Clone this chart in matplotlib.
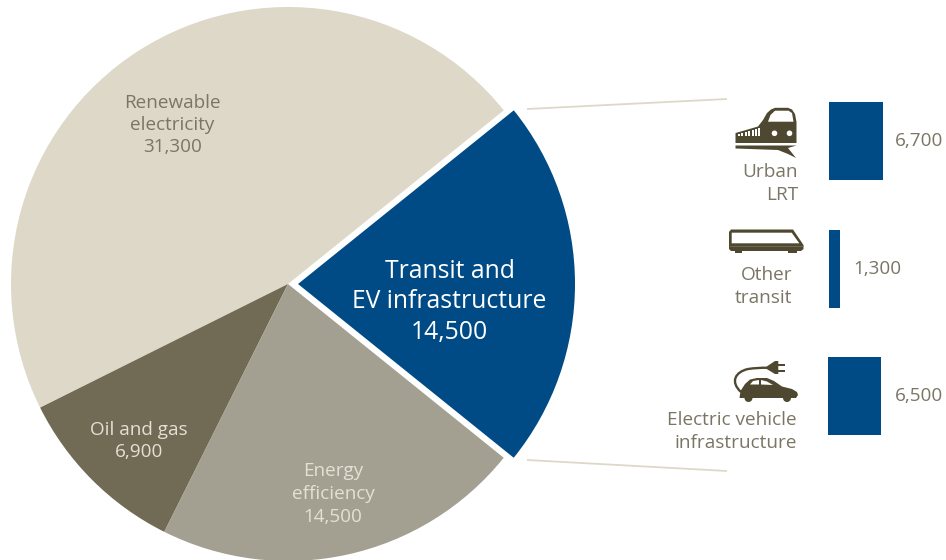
import matplotlib
matplotlib.use('Agg')
import matplotlib.pyplot as plt
from matplotlib.patches import PathPatch, Polygon, Circle, Rectangle
from matplotlib.path import Path

plt.rcParams['font.family'] = ['Open Sans', 'DejaVu Sans']

# investment by category, counter-clockwise from the transit slice
sectors = ['Transit and\nEV infrastructure', 'Renewable\nelectricity', 'Oil and gas', 'Energy\nefficiency']
sector_values = [14500, 31300, 6900, 14500]
sector_labels = ['14,500', '31,300', '6,900', '14,500']

# breakdown of the transit slice
transit_names = ['Urban\nLRT', 'Other\ntransit', 'Electric vehicle\ninfrastructure']
transit_values = [6700, 1300, 6500]
transit_labels = ['6,700', '1,300', '6,500']

BLUE = '#004b85'
SAND = '#ddd8c8'
STONE = '#a3a091'
OLIVE = '#716a55'
ICON = '#4f4831'
TEXT = '#7a7564'

W, H = 946, 560
fig = plt.figure(figsize=(W / 100, H / 100), dpi=100)
ax = fig.add_axes([0, 0, 1, 1])


def py(y):
    # screen rows run downwards, the axes run upwards
    return H - y


def pts(coords):
    return [(x, py(y)) for x, y in coords]


# pie, with the transit slice pulled out towards the bars
ax.pie(sector_values, colors=[BLUE, SAND, OLIVE, STONE], center=(288, py(284)), radius=277,
       startangle=-38.85, counterclock=True, explode=[10, 0, 0, 0], normalize=True,
       wedgeprops={'linewidth': 0}, frame=True)
ax.set_xlim(0, W)
ax.set_ylim(0, H)
ax.set_aspect('equal')
ax.axis('off')

label_spots = [(449.5, 302), (172.5, 125), (139, 441), (333, 494)]
label_colors = ['white', TEXT, '#e4e0d3', '#e4e0d3']
for name, value, spot, col in zip(sectors, sector_labels, label_spots, label_colors):
    size = 17.8 if col == 'white' else 13.6
    gap = 30 if col == 'white' else 22.5
    lines = name.split('\n') + [value]
    top = spot[1] - gap * (len(lines) - 1) / 2
    for i, line in enumerate(lines):
        ax.text(spot[0], py(top + gap * i), line, color=col, fontsize=size, ha='center', va='center')

# connectors from the slice to the breakdown
ax.plot([527, 727], [py(109), py(99)], color=SAND, lw=1.3, solid_capstyle='butt')
ax.plot([527, 727], [py(460), py(471)], color=SAND, lw=1.3, solid_capstyle='butt')

# breakdown bars, one small axes per row on a shared value scale
px_per_unit = 0.0081
bar_lefts = [829, 829, 828]
bar_tops = [102, 230, 357]
bar_height = 78
value_gap = [12, 14, 14.5]
for value, text, left, top, gap in zip(transit_values, transit_labels, bar_lefts, bar_tops, value_gap):
    bar_ax = fig.add_axes([left / W, (H - top - bar_height) / H, value * px_per_unit / W, bar_height / H])
    bar_ax.barh([0], [value], height=1, color=BLUE)
    bar_ax.set_xlim(0, value)
    bar_ax.set_ylim(-0.5, 0.5)
    bar_ax.axis('off')
    ax.text(left + value * px_per_unit + gap, py(top + bar_height / 2), text, color=TEXT,
            fontsize=13.6, ha='left', va='center')

name_right = [798, 792, 797]
name_rows = [(172, 195), (275, 298), (420, 443)]
for name, right, rows in zip(transit_names, name_right, name_rows):
    for line, row in zip(name.split('\n'), rows):
        ax.text(right, py(row), line, color=TEXT, fontsize=13.7, ha='right', va='center')

# light rail icon
ax.add_patch(Polygon(pts([(735.5, 143), (735.5, 133), (746, 130), (758, 126.5), (763, 120), (767, 113), (771, 109.5),
                          (775, 107.8), (788, 107.8), (792, 109.5), (795, 114), (796.5, 122), (796.5, 143)]), fc=ICON, lw=0))
ax.add_patch(Polygon(pts([(735.5, 145.5), (796.5, 145.5), (788, 148), (796, 158), (788, 154), (778, 150), (735.5, 148.5)]),
                     fc=ICON, lw=0))
ax.add_patch(Polygon(pts([(768, 121.7), (793.5, 121.7), (792, 113), (788.5, 110.7), (775, 110.7), (770.5, 115)]), fc='white', lw=0))
for cx in (774.5, 789.5):
    ax.add_patch(Circle((cx, py(133.3)), 2.8, fc='white', lw=0))
for wx, wtop in zip((737.5, 741, 744.5, 748, 751.5, 755, 758), (133.5, 132.5, 131.5, 130.5, 129.5, 128.5, 127.5)):
    ax.add_patch(Rectangle((wx, py(135.5)), 2, 135.5 - wtop, fc='white', lw=0))

# intercity train icon
ax.add_patch(Polygon(pts([(729, 232), (731, 229.5), (793, 229.5), (803.5, 245), (803.5, 249), (801, 251), (731, 251), (729, 249)]),
                     fc=ICON, lw=0))
ax.add_patch(Polygon(pts([(731.7, 232.7), (791.7, 232.7), (799.3, 243.3), (731.7, 243.3)]), fc='white', lw=0))
ax.plot([730, 803], [py(245.5), py(245.5)], color='#7a7564', lw=0.5)
for x0, x1 in ((735, 742), (788, 797)):
    ax.add_patch(Rectangle((x0, py(252.7)), x1 - x0, 1.8, fc=ICON, lw=0))

# charging car icon
ax.add_patch(Polygon(pts([(739.5, 398), (740.5, 391), (745, 384), (750, 379.5), (757, 378), (767, 378), (774, 381),
                          (782, 386.5), (792, 389), (797, 392), (798, 395), (796, 398)]), fc=ICON, lw=0))
for cx in (748.5, 787):
    ax.add_patch(Circle((cx, py(398)), 4, fc=ICON, lw=0))
ax.add_patch(Polygon(pts([(750, 384.5), (759, 384.5), (759, 380), (753, 381)]), fc='white', lw=0))
ax.add_patch(Polygon(pts([(761, 384.5), (773, 385), (767, 381.5), (761, 380)]), fc='white', lw=0))
cable = Path(pts([(741, 392), (730, 382), (735, 372), (748, 369), (758, 367.5), (767, 367.8)]),
             [Path.MOVETO, Path.CURVE4, Path.CURVE4, Path.CURVE4, Path.CURVE3, Path.CURVE3])
ax.add_patch(PathPatch(cable, fc='none', ec=ICON, lw=1.7))
ax.add_patch(Polygon(pts([(766.7, 366.5), (775, 361), (778.3, 361), (778.3, 374), (775, 374), (766.7, 369)]),
                     fc=ICON, lw=0))
ax.add_patch(Rectangle((778, py(365.5)), 7, 2, fc=ICON, lw=0))
ax.add_patch(Rectangle((778, py(372)), 7, 2, fc=ICON, lw=0))

plt.savefig('out.png', dpi=100)
